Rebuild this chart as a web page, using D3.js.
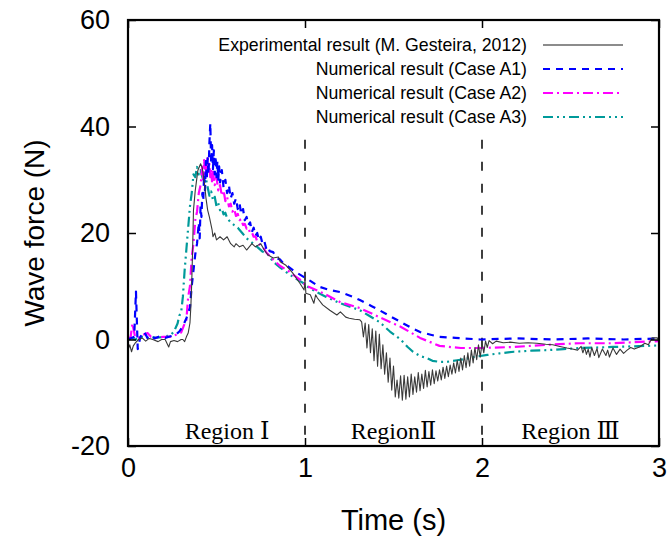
<!DOCTYPE html>
<html>
<head>
<meta charset="utf-8">
<script src="https://cdn.jsdelivr.net/npm/d3@7"></script>
<style>
  body { margin: 0; background: #fff; }
  svg { display: block; }
</style>
</head>
<body>
<div class="container"></div>
<script>
// size of the page and plot box
const width = 670;
const height = 537;
const margin = { top: 20, right: 11, bottom: 91, left: 128 };

// axis ticks
const xTicks = [0, 1, 2, 3];
const yTicks = [-20, 0, 20, 40, 60];

// region dividers and labels
const regionLines = [1, 2];
const regionNames = ["Region Ⅰ", "RegionⅡ", "Region Ⅲ"];
const regionCenters = [0.56, 1.5, 2.5];

// legend labels
const seriesNames = [
  "Experimental result (M. Gesteira, 2012)",
  "Numerical result (Case A1)",
  "Numerical result (Case A2)",
  "Numerical result (Case A3)"
];

// experimental data [time (s), force (N)]
const experimental = [
  [0,-2],[0.01,-1],[0.02,-2.3],[0.03,-1.2],[0.04,-0.7],[0.06,0],[0.08,0.3],[0.1,-0.3],[0.12,0.2],[0.14,0],
  [0.17,-0.4],[0.19,0],[0.21,0],[0.23,-1.4],[0.24,-0.4],[0.26,-0.2],[0.28,-0.4],[0.3,0],[0.31,0],[0.32,-0.4],
  [0.33,0.5],[0.34,1.2],[0.35,3.1],[0.355,6.1],[0.36,10.6],[0.365,16.8],[0.37,24.3],[0.38,28],[0.395,31.8],
  [0.41,33],[0.42,32.2],[0.435,28.6],[0.44,26.7],[0.45,24.3],[0.46,23],[0.475,20.6],[0.48,19.3],[0.49,20],
  [0.5,18.7],[0.52,19.3],[0.54,18.7],[0.56,19.3],[0.58,18],[0.6,17.4],[0.61,18],[0.63,17.4],[0.65,17.7],
  [0.67,16.8],[0.7,18],[0.72,17.4],[0.75,18],[0.77,16.8],[0.79,15.9],[0.82,15.3],[0.85,15.5],[0.86,14.6],
  [0.89,14],[0.93,12.5],[0.97,10.6],[0.995,9.3],[1.0,11.2],[1.005,8.7],[1.03,8.4],[1.05,6.8],[1.06,8.4],
  [1.07,7.8],[1.1,6.5],[1.14,5.5],[1.18,4.6],[1.2,5.2],[1.23,4.2],[1.25,4],[1.28,3.8],[1.31,3.7],[1.32,3.3],
  [1.33,0.5],[1.34,3.1],[1.35,-1.6],[1.36,2.8],[1.37,-2.5],[1.38,2],[1.39,-4],[1.4,1.6],[1.41,-5],[1.42,1],
  [1.43,-5.5],[1.44,-1],[1.45,-6.5],[1.46,-2.5],[1.47,-8],[1.48,-3.5],[1.49,-9.5],[1.5,-5],[1.51,-10.8],
  [1.52,-7.6],[1.53,-11],[1.54,-6.8],[1.55,-11.4],[1.56,-6.7],[1.57,-11.2],[1.58,-7],[1.59,-10.8],[1.6,-6.5],
  [1.61,-10.3],[1.62,-7],[1.63,-9.9],[1.64,-6.2],[1.65,-9.6],[1.66,-6.5],[1.67,-9.2],[1.68,-5.8],[1.69,-8.9],
  [1.7,-6],[1.71,-8.6],[1.72,-5.7],[1.73,-8.3],[1.74,-5.9],[1.75,-7.8],[1.76,-5.7],[1.77,-7.6],[1.78,-5.2],
  [1.79,-7.3],[1.8,-5],[1.81,-7],[1.82,-4.8],[1.83,-6.5],[1.84,-4.4],[1.85,-6.3],[1.86,-3.9],[1.87,-6],
  [1.88,-3.5],[1.89,-5.7],[1.9,-3],[1.91,-5.3],[1.92,-2.5],[1.93,-5],[1.94,-2],[1.95,-4.4],[1.96,-1.5],
  [1.97,-3.8],[1.98,-1],[1.99,-3.3],[2.0,-0.7],[2.01,-2.5],[2.02,-0.3],[2.03,-1.5],[2.04,-0.2],[2.06,-0.8],
  [2.08,-0.3],[2.12,-0.6],[2.16,-0.5],[2.21,-0.7],[2.26,-0.6],[2.31,-0.7],[2.36,-0.9],[2.4,-1],[2.44,-1.3],
  [2.48,-1.6],[2.51,-1.8],[2.54,-2],[2.56,-1.3],[2.57,-2.5],[2.58,-1.5],[2.59,-2.8],[2.6,-1.8],[2.61,-3.3],
  [2.62,-1.5],[2.635,-3],[2.65,-1.7],[2.66,-3.4],[2.68,-1.8],[2.7,-3],[2.71,-2],[2.72,-3.3],[2.74,-1.6],
  [2.76,-2.8],[2.78,-1.8],[2.8,-2.6],[2.82,-2],[2.84,-1.5],[2.86,-1.8],[2.89,-1.4],[2.92,-0.7],[2.94,-1],
  [2.96,0.3],[2.99,0.3],[3.0,-0.2]
];

// numerical case A1
const caseA1 = [
  [0,0],[0.02,0.3],[0.035,0.5],[0.045,9],[0.055,-1.8],[0.07,0.5],[0.09,1.5],[0.11,0.3],[0.13,0.8],[0.15,0.2],
  [0.18,0.6],[0.21,0.3],[0.24,0.6],[0.27,0.9],[0.29,1.5],[0.31,2.5],[0.33,4],[0.35,6],[0.36,10],[0.37,13],
  [0.38,16],[0.39,18],[0.4,22],[0.405,19],[0.41,25],[0.415,23],[0.42,27.5],[0.425,26],[0.43,31],[0.435,28],
  [0.44,33.5],[0.445,30],[0.45,34],[0.455,31],[0.46,37],[0.465,40.6],[0.47,33],[0.475,36.5],[0.48,32],
  [0.485,35.5],[0.49,31],[0.495,34.5],[0.5,30.5],[0.505,33.5],[0.51,30],[0.515,32.5],[0.52,29.5],[0.53,31.8],
  [0.54,28.5],[0.55,30],[0.56,27.5],[0.57,29],[0.58,26.5],[0.59,27.5],[0.6,25.5],[0.61,26.5],[0.62,24.5],
  [0.63,25.6],[0.64,23.5],[0.65,24.5],[0.66,22.4],[0.67,23],[0.68,21.5],[0.69,22],[0.7,20.2],[0.71,21],
  [0.72,19.5],[0.73,20],[0.74,18.6],[0.75,19.3],[0.76,18],[0.77,18.5],[0.78,17.2],[0.79,17.6],[0.8,16.6],
  [0.82,16.4],[0.84,15.3],[0.86,15],[0.88,14.2],[0.9,13.8],[0.94,12.8],[0.99,11.8],[1.03,11],[1.08,9.9],
  [1.14,9.3],[1.2,8.9],[1.27,8],[1.31,7.4],[1.38,6.2],[1.42,5.5],[1.48,4.4],[1.54,3.3],[1.6,2.2],[1.65,1.4],
  [1.71,0.9],[1.76,0.5],[1.85,0.3],[1.99,0],[2.2,0.2],[2.4,0],[2.6,0.2],[2.8,0],[3,0.2]
];

// numerical case A2
const caseA2 = [
  [0,0],[0.015,0.5],[0.025,3],[0.04,0.5],[0.06,0.3],[0.08,0.8],[0.11,1.2],[0.13,0.5],[0.16,0.3],[0.2,0.5],
  [0.24,0.5],[0.28,1],[0.3,1.3],[0.32,3],[0.33,3.7],[0.34,8],[0.35,10],[0.36,15.5],[0.37,18],[0.38,22.4],
  [0.39,24],[0.4,27.5],[0.41,29],[0.42,32.4],[0.425,30],[0.43,33.7],[0.435,31],[0.44,34],[0.445,30.5],
  [0.45,34.5],[0.455,31.5],[0.46,33],[0.465,30.5],[0.47,32],[0.475,29.5],[0.48,31.5],[0.49,29],[0.5,30.5],
  [0.51,28],[0.52,29],[0.53,27],[0.54,28],[0.55,26],[0.56,26.8],[0.57,25],[0.58,25.5],[0.59,24],[0.6,24.5],
  [0.61,23.2],[0.62,23.6],[0.63,22.4],[0.64,22.6],[0.65,21.5],[0.66,21.7],[0.67,20.8],[0.68,21],[0.69,20],
  [0.7,20.1],[0.71,19.3],[0.72,19.4],[0.73,18.4],[0.75,17.6],[0.77,17],[0.78,16.4],[0.8,15.7],[0.82,15],
  [0.86,13.8],[0.9,13],[0.94,12],[0.99,10.8],[1.0,10.2],[1.07,9.2],[1.12,8.4],[1.2,7],[1.31,5.9],[1.42,4.2],
  [1.54,2.4],[1.65,0.3],[1.76,-1.2],[1.88,-1.6],[1.99,-1.6],[2.18,-1.4],[2.37,-1],[2.55,-0.7],[2.74,-0.7],
  [2.93,-0.4],[3,-0.3]
];

// numerical case A3
const caseA3 = [
  [0,0],[0.02,0.3],[0.04,0],[0.06,0.2],[0.08,0.5],[0.1,0.3],[0.13,0.5],[0.16,0.3],[0.2,0.5],[0.24,0.8],
  [0.26,1.5],[0.28,3],[0.29,4.5],[0.3,5],[0.31,8],[0.32,13],[0.33,17],[0.34,21],[0.35,25],[0.36,27.5],
  [0.37,31],[0.38,30.5],[0.39,32.4],[0.4,31],[0.41,31.8],[0.42,30.5],[0.43,29.5],[0.44,30.3],[0.45,28.6],
  [0.46,27],[0.47,27.8],[0.48,26.2],[0.49,26.8],[0.5,25],[0.51,25.6],[0.52,24.3],[0.53,24.6],[0.54,23.5],
  [0.55,23.8],[0.56,22.8],[0.58,22],[0.6,21.5],[0.62,21],[0.65,19.8],[0.67,19],[0.7,18.2],[0.73,17.4],
  [0.76,16.5],[0.79,16],[0.82,14.6],[0.86,13.5],[0.9,12.5],[0.94,11.6],[0.99,10.6],[1.0,10.2],[1.06,9],
  [1.12,8],[1.2,6.8],[1.31,5.5],[1.36,4.5],[1.42,3.3],[1.48,1.5],[1.54,0],[1.58,-1.4],[1.61,-2.3],[1.65,-3.1],
  [1.69,-3.5],[1.72,-4],[1.76,-4.2],[1.8,-4.2],[1.86,-3.9],[1.9,-3.7],[1.95,-3.3],[2.03,-2.9],[2.1,-2.6],
  [2.18,-2.3],[2.28,-2.1],[2.37,-2],[2.46,-1.8],[2.55,-1.6],[2.65,-1.5],[2.74,-1.4],[2.84,-1.3],[2.93,-1.2],
  [3,-1.1]
];

// line styles for each series, same order as seriesNames
const styles = [
  { color: "#3a3a3a", width: 1.1, dash: null },
  { color: "#0000ff", width: 2.2, dash: "7,6" },
  { color: "#ff00ff", width: 2.2, dash: "10,4,2,4" },
  { color: "#009a9a", width: 2.2, dash: "10,4,2,4,2,4" }
];
const allSeries = [experimental, caseA1, caseA2, caseA3];

const sans = "'Liberation Sans', Arial, Helvetica, sans-serif";
const serif = "'Liberation Serif', 'Times New Roman', 'DejaVu Serif', serif";

const svg = d3.select(".container")
  .append("svg")
  .attr("width", width)
  .attr("height", height);

// scales
const xScale = d3.scaleLinear()
  .domain([0, 3])
  .range([margin.left, width - margin.right]);

const yScale = d3.scaleLinear()
  .domain([-20, 60])
  .range([height - margin.bottom, margin.top]);

const x0 = xScale(0), x1 = xScale(3);
const y0 = yScale(-20), y1 = yScale(60);

// clip for the data lines
svg.append("clipPath").attr("id", "plotClip")
  .append("rect")
  .attr("x", x0).attr("y", y1)
  .attr("width", x1 - x0).attr("height", y0 - y1);

// region dividers
svg.append("g")
  .selectAll("line")
  .data(regionLines)
  .join("line")
  .attr("x1", d => xScale(d)).attr("x2", d => xScale(d))
  .attr("y1", yScale(37.5)).attr("y2", y0)
  .attr("stroke", "#000")
  .attr("stroke-width", 1.5)
  .attr("stroke-dasharray", "9,13");

// data lines
const line = d3.line()
  .x(d => xScale(d[0]))
  .y(d => yScale(d[1]));

const plot = svg.append("g").attr("clip-path", "url(#plotClip)");
[3, 2, 1, 0].forEach(i => {
  plot.append("path")
    .datum(allSeries[i])
    .attr("fill", "none")
    .attr("stroke", styles[i].color)
    .attr("stroke-width", styles[i].width)
    .attr("stroke-dasharray", styles[i].dash)
    .attr("stroke-linejoin", "round")
    .attr("d", line);
});

// axes with inward ticks on all sides
function styleAxis(g) {
  g.select(".domain").remove();
  g.selectAll(".tick line").attr("stroke", "#000").attr("stroke-width", 1.5);
  g.selectAll("text").attr("font-family", sans).attr("font-size", "27px").attr("fill", "#000");
}

svg.append("g")
  .attr("transform", `translate(0, ${y0})`)
  .call(d3.axisBottom(xScale).tickValues(xTicks).tickSizeInner(-8).tickSizeOuter(0).tickPadding(12).tickFormat(d => String(d)))
  .call(styleAxis);

svg.append("g")
  .attr("transform", `translate(0, ${y1})`)
  .call(d3.axisTop(xScale).tickValues(xTicks).tickSizeInner(-8).tickSizeOuter(0).tickFormat(""))
  .call(styleAxis);

svg.append("g")
  .attr("transform", `translate(${x0}, 0)`)
  .call(d3.axisLeft(yScale).tickValues(yTicks).tickSizeInner(-8).tickSizeOuter(0).tickPadding(18).tickFormat(d => String(d)))
  .call(styleAxis);

svg.append("g")
  .attr("transform", `translate(${x1}, 0)`)
  .call(d3.axisRight(yScale).tickValues(yTicks).tickSizeInner(-8).tickSizeOuter(0).tickFormat(""))
  .call(styleAxis);

// plot border
svg.append("rect")
  .attr("x", x0).attr("y", y1)
  .attr("width", x1 - x0).attr("height", y0 - y1)
  .attr("fill", "none")
  .attr("stroke", "#000")
  .attr("stroke-width", 2.2);

// region labels
svg.append("g")
  .selectAll("text")
  .data(regionNames)
  .join("text")
  .attr("x", (d, i) => xScale(regionCenters[i]))
  .attr("y", y0 - 7)
  .attr("text-anchor", "middle")
  .attr("font-family", serif)
  .attr("font-size", "24px")
  .text(d => d);

// axis titles
svg.append("text")
  .attr("x", (x0 + x1) / 2)
  .attr("y", 530)
  .attr("text-anchor", "middle")
  .attr("font-family", sans)
  .attr("font-size", "29px")
  .text("Time (s)");

svg.append("text")
  .attr("transform", `translate(44, ${(y0 + y1) / 2}) rotate(-90)`)
  .attr("text-anchor", "middle")
  .attr("font-family", sans)
  .attr("font-size", "28px")
  .text("Wave force (N)");

// legend
const legend = svg.append("g");
seriesNames.forEach((name, i) => {
  const yy = 45 + i * 24;
  legend.append("text")
    .attr("x", 527).attr("y", yy + 6)
    .attr("text-anchor", "end")
    .attr("font-family", sans)
    .attr("font-size", "17.7px")
    .text(name);
  legend.append("line")
    .attr("x1", 543).attr("x2", 623)
    .attr("y1", yy).attr("y2", yy)
    .attr("stroke", i === 0 ? "#666" : styles[i].color)
    .attr("stroke-width", i === 0 ? 1.5 : 2)
    .attr("stroke-dasharray", styles[i].dash);
});
</script>
</body>
</html>
